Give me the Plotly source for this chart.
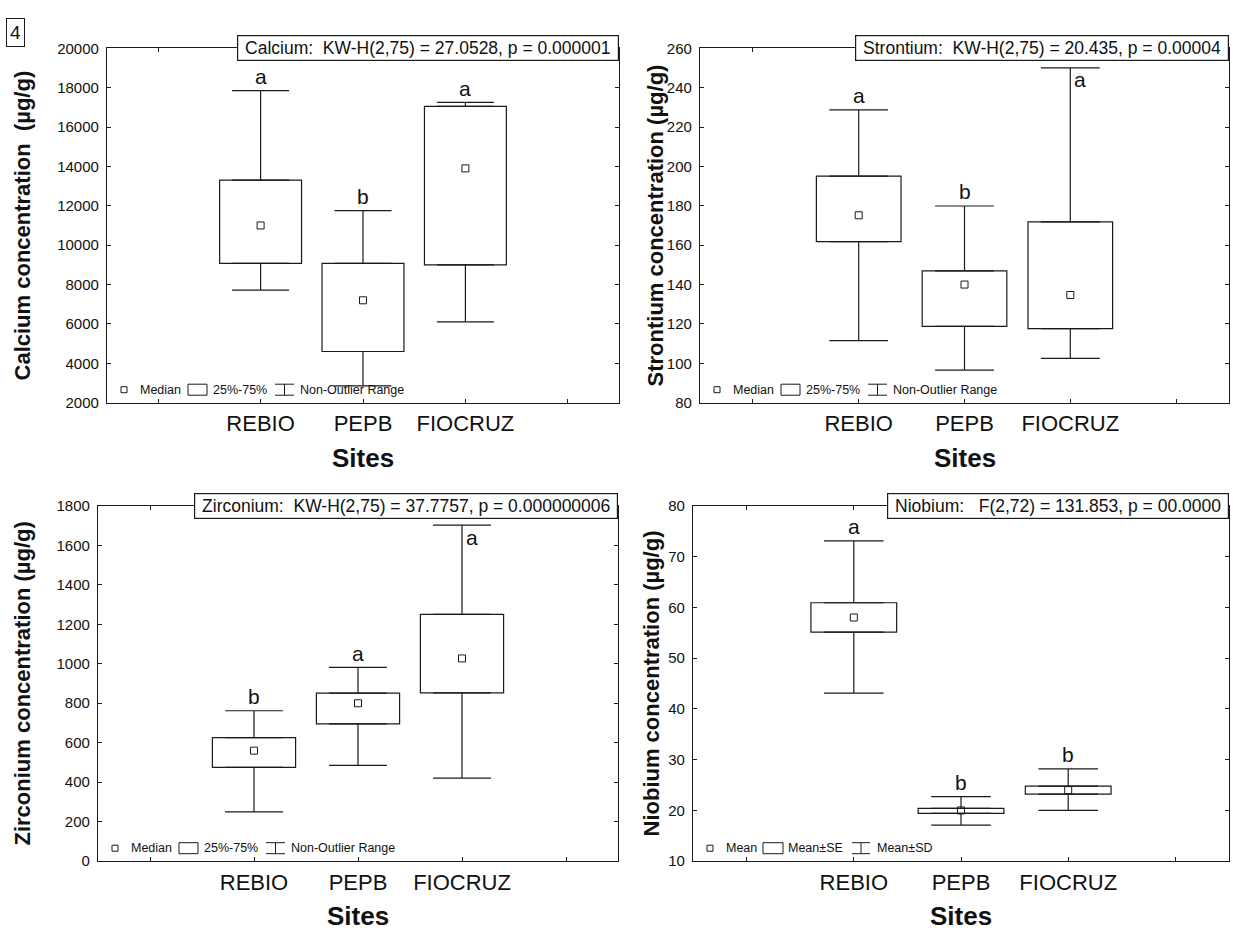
import plotly.graph_objects as go

# ---------------- data ----------------
sites = ["REBIO", "PEPB", "FIOCRUZ"]

ca_low = [7720, 2850, 6100]
ca_q1 = [9080, 4600, 9000]
ca_median = [11000, 7200, 13900]
ca_q3 = [13300, 9080, 17050]
ca_high = [17850, 11750, 17250]
ca_letters = ["a", "b", "a"]

sr_low = [111.5, 96.5, 102.5]
sr_q1 = [161.8, 118.8, 117.6]
sr_median = [175.2, 140.0, 134.7]
sr_q3 = [195.1, 146.9, 171.8]
sr_high = [228.7, 179.9, 250.0]
sr_letters = ["a", "b", "a"]

zr_low = [250, 485, 421]
zr_q1 = [475, 696, 853]
zr_median = [560, 800, 1027]
zr_q3 = [626, 851, 1250]
zr_high = [762, 982, 1702]
zr_letters = ["b", "a", "a"]

nb_sd_low = [43.1, 17.1, 20.0]
nb_se_low = [55.1, 19.4, 23.2]
nb_mean = [58.0, 20.0, 24.0]
nb_se_high = [60.9, 20.4, 24.8]
nb_sd_high = [73.1, 22.7, 28.2]
nb_letters = ["a", "b", "b"]

ca_stat = "Calcium:\u00a0\u00a0KW-H(2,75) = 27.0528, p = 0.000001"
sr_stat = "Strontium:\u00a0\u00a0KW-H(2,75) = 20.435, p = 0.00004"
zr_stat = "Zirconium:\u00a0\u00a0KW-H(2,75) = 37.7757, p = 0.000000006"
nb_stat = "Niobium:\u00a0\u00a0\u00a0F(2,72) = 131.853, p = 00.0000"

ca_title = "Calcium concentration\u00a0\u00a0(µg/g)"
sr_title = "Strontium concentration (µg/g)"
zr_title = "Zirconium concentration (µg/g)"
nb_title = "Niobium concentration (µg/g)"

median_legend = ["Median", "25%-75%", "Non-Outlier Range"]
mean_legend = ["Mean", "Mean±SE", "Mean±SD"]

# ---------------- style / layout ----------------
W, H = 1233, 934
INK = "#1a1a1a"
LW = 1.2
FONT = "Arial, 'Liberation Sans', sans-serif"
cats = [" "] + sites + ["  "]

fig = go.Figure()


def add_panel(i, box, low, q1, center, q3, high, letters, stat, ytitle,
              yrange, dtick, legend_texts, legend_offsets, ytitle_x):
    xa = "x" if i == 1 else f"x{i}"
    ya = "y" if i == 1 else f"y{i}"
    sfx = "" if i == 1 else str(i)
    l, r, t, b = box
    pw, ph = r - l, b - t
    cap = 0.278 * pw / 5

    # boxes
    fig.add_trace(go.Bar(
        x=sites, y=[hi - lo for hi, lo in zip(q3, q1)], base=q1, width=0.8,
        marker=dict(color="white", line=dict(color=INK, width=LW)),
        xaxis=xa, yaxis=ya, showlegend=False, hoverinfo="skip"))
    # upper whiskers
    fig.add_trace(go.Scatter(
        x=sites, y=q3, mode="markers",
        marker=dict(size=1, color="rgba(0,0,0,0)"),
        error_y=dict(type="data", symmetric=False,
                     array=[hi - q for hi, q in zip(high, q3)],
                     arrayminus=[0, 0, 0], color=INK, thickness=LW, width=cap),
        xaxis=xa, yaxis=ya, showlegend=False, hoverinfo="skip"))
    # lower whiskers
    fig.add_trace(go.Scatter(
        x=sites, y=q1, mode="markers",
        marker=dict(size=1, color="rgba(0,0,0,0)"),
        error_y=dict(type="data", symmetric=False,
                     array=[0, 0, 0],
                     arrayminus=[q - lo for q, lo in zip(q1, low)],
                     color=INK, thickness=LW, width=cap),
        xaxis=xa, yaxis=ya, showlegend=False, hoverinfo="skip"))
    # center marker
    fig.add_trace(go.Scatter(
        x=sites, y=center, mode="markers",
        marker=dict(symbol="square-open", size=7, color=INK, line=dict(width=1, color=INK)),
        xaxis=xa, yaxis=ya, showlegend=False, hoverinfo="skip"))

    # axes
    fig.update_layout(**{
        f"xaxis{sfx}": dict(
            domain=[l / W, r / W], anchor=ya, type="category",
            categoryorder="array", categoryarray=cats, range=[-0.5, 4.5],
            showline=True, linecolor=INK, linewidth=LW, mirror="ticks",
            ticks="inside", ticklen=4, tickcolor=INK, showgrid=False,
            zeroline=False, tickfont=dict(size=22, color="#111", family=FONT),
            ticklabelstandoff=1, fixedrange=True),
        f"yaxis{sfx}": dict(
            domain=[1 - b / H, 1 - t / H], anchor=xa, range=yrange,
            tick0=yrange[0], dtick=dtick, tickformat="d",
            showline=True, linecolor=INK, linewidth=LW, mirror="ticks",
            ticks="inside", ticklen=4, tickcolor=INK, showgrid=False,
            zeroline=False, tickfont=dict(size=15, color="#111", family=FONT),
            ticklabelstandoff=4, fixedrange=True),
    })

    # significance letters
    for s, hi, let in zip(sites, high, letters):
        gap = (yrange[1] - hi) / (yrange[1] - yrange[0]) * ph
        if gap < 30:
            fig.add_annotation(x=s, y=hi, xref=xa, yref=ya, text=let,
                               showarrow=False, xanchor="center", yanchor="middle",
                               xshift=10, yshift=-12,
                               font=dict(size=21, color="#111", family=FONT))
        else:
            fig.add_annotation(x=s, y=hi, xref=xa, yref=ya, text=let,
                               showarrow=False, xanchor="center", yanchor="middle",
                               yshift=14,
                               font=dict(size=21, color="#111", family=FONT))

    # statistic box
    fig.add_annotation(x=1, y=1, xref=f"{xa} domain", yref=f"{ya} domain",
                       text="\u00a0" + stat + "\u00a0", showarrow=False,
                       xanchor="right", yanchor="middle",
                       bgcolor="white", bordercolor=INK, borderwidth=LW, borderpad=2,
                       font=dict(size=17.5, color="#111", family=FONT))

    # y title
    fig.add_annotation(x=ytitle_x / W, y=1 - (t + b) / 2 / H, xref="paper", yref="paper",
                       text=f"<b>{ytitle}</b>", textangle=-90, showarrow=False,
                       xanchor="center", yanchor="middle",
                       font=dict(size=22, color="#111", family=FONT))
    # x title
    fig.add_annotation(x=(l + r) / 2 / W, y=1 - (b + 56) / H, xref="paper", yref="paper",
                       text="<b>Sites</b>", showarrow=False,
                       xanchor="center", yanchor="middle",
                       font=dict(size=26, color="#111", family=FONT))

    # in-plot legend
    ly = 13
    sq, t1, rx0, rx1, t2, wx0, wx1, t3 = legend_offsets
    xd, yd = f"{xa} domain", f"{ya} domain"
    common = dict(xref=xd, yref=yd, xsizemode="pixel", ysizemode="pixel",
                  xanchor=0, yanchor=0, line=dict(color=INK, width=1))
    fig.add_shape(type="rect", x0=sq - 3, x1=sq + 3, y0=ly - 3, y1=ly + 3, **common)
    fig.add_shape(type="rect", x0=rx0, x1=rx1, y0=ly - 5.5, y1=ly + 5.5, **common)
    fig.add_shape(type="line", x0=wx0, x1=wx1, y0=ly + 5.5, y1=ly + 5.5, **common)
    fig.add_shape(type="line", x0=wx0, x1=wx1, y0=ly - 5.5, y1=ly - 5.5, **common)
    fig.add_shape(type="line", x0=(wx0 + wx1) / 2, x1=(wx0 + wx1) / 2,
                  y0=ly - 5.5, y1=ly + 5.5, **common)
    for txt, off in zip(legend_texts, [t1, t2, t3]):
        fig.add_annotation(x=0, y=0, xref=xd, yref=yd, text=txt, showarrow=False,
                           xanchor="left", yanchor="middle", xshift=off - 2, yshift=ly,
                           font=dict(size=12.5, color="#111", family=FONT))


med_off = (17, 33, 81, 100, 106, 168, 187, 193)
mean_off = (17, 33, 70, 90, 95, 159, 177, 184)

add_panel(1, (107, 619, 40, 401), ca_low, ca_q1, ca_median, ca_q3, ca_high, ca_letters,
          ca_stat, ca_title, [2000, 20000], 2000, median_legend, med_off, 22)
add_panel(2, (700, 1229, 40, 401), sr_low, sr_q1, sr_median, sr_q3, sr_high, sr_letters,
          sr_stat, sr_title, [80, 260], 20, median_legend, med_off, 655)
add_panel(3, (98, 618, 506, 868), zr_low, zr_q1, zr_median, zr_q3, zr_high, zr_letters,
          zr_stat, zr_title, [0, 1800], 200, median_legend, med_off, 22)
add_panel(4, (693, 1229, 506, 868), nb_sd_low, nb_se_low, nb_mean, nb_se_high, nb_sd_high,
          nb_letters, nb_stat, nb_title, [10, 80], 10, mean_legend, mean_off, 651)

# figure number
fig.add_annotation(x=6 / W, y=1 - 9 / H, xref="paper", yref="paper", text="4",
                   showarrow=False, xanchor="left", yanchor="top",
                   bordercolor=INK, borderwidth=1, borderpad=3,
                   font=dict(size=19, color="#111", family=FONT))

fig.update_layout(
    width=W, height=H, autosize=False,
    margin=dict(l=0, r=0, t=0, b=0),
    paper_bgcolor="white", plot_bgcolor="white",
    showlegend=False, barmode="overlay",
    font=dict(family=FONT, color="#111"),
)

fig.write_html("out.html", config={"displayModeBar": False},
               post_script="document.body.style.margin='0';")
